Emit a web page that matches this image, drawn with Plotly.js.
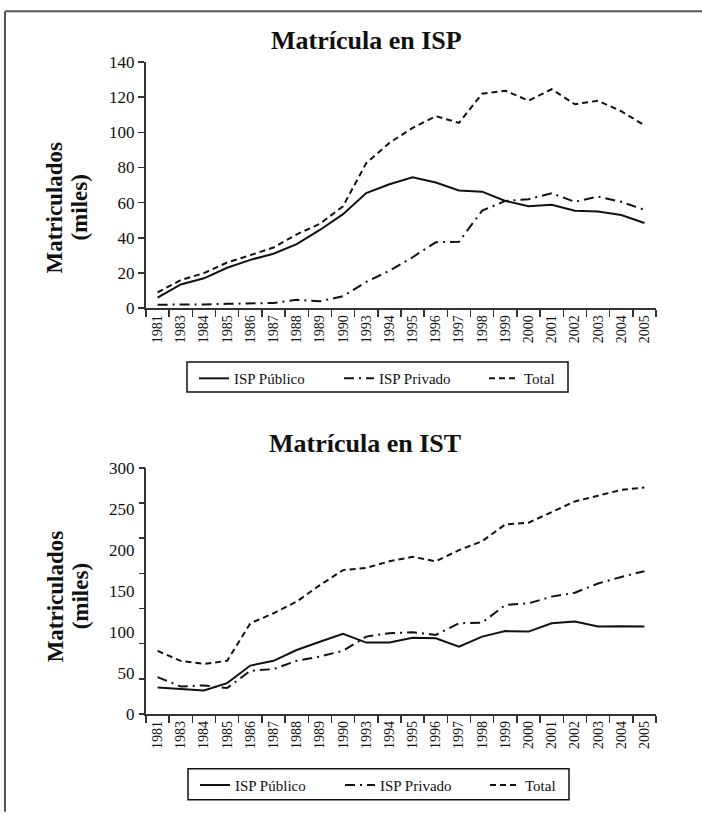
<!DOCTYPE html>
<html>
<head>
<meta charset="utf-8">
<script src="https://cdn.plot.ly/plotly-3.0.1.min.js"></script>
<style>html,body{margin:0;padding:0;background:#fff;}#chart{width:702px;height:814px;}</style>
</head>
<body>
<div id="chart"></div>
<script>
var years = ["1981","1983","1984","1985","1986","1987","1988","1989","1990","1993","1994","1995","1996","1997","1998","1999","2000","2001","2002","2003","2004","2005"];

var ispPublico = [6, 13.5, 17, 23, 27.5, 31, 36.5, 44.5, 53.5, 65.5, 70.5, 74.5, 71.5, 67, 66.3, 61, 58, 58.8, 55.5, 55, 53, 48.5];
var ispPrivado = [2, 2, 2.2, 2.5, 2.7, 3, 4.8, 4, 6.8, 15, 21.3, 29, 37.5, 37.8, 55.5, 61, 62, 65.4, 60.5, 63.5, 60.5, 56];
var ispTotal   = [9, 16, 20, 26, 30.2, 34.5, 42, 48, 58, 82.5, 94, 102.5, 109.2, 105.4, 122, 123.7, 118, 124.5, 116, 118, 112, 104];

var istPublico = [32.4, 30.4, 28.7, 37.6, 59, 64.8, 78, 88, 97.6, 87, 87, 93, 92.3, 82, 94.3, 101, 100.4, 110.5, 112.6, 106.5, 107, 106.5];
var istPrivado = [45, 33.6, 34.8, 31.6, 52.6, 54.7, 64.8, 70, 77, 94.3, 98.4, 99.6, 96.4, 110.5, 111.3, 132.8, 134.8, 143, 147.8, 159, 167, 174];
var istTotal   = [76.9, 64.7, 61, 64.8, 110.5, 122.7, 136.9, 157, 175.3, 178, 186, 191.5, 186, 199.6, 210.5, 231, 233, 246, 259, 266, 273, 276];

var ispTicks = [0, 20, 40, 60, 80, 100, 120, 140];
var istLabels = [0, 50, 100, 150, 200, 250, 300];
var istTickMarks = [0, 300/7, 600/7, 900/7, 1200/7, 1500/7, 1800/7, 300];

var seriesNames = ["ISP Público", "ISP Privado", "Total"];
var titles = ["Matrícula en ISP", "Matrícula en IST"];
var yTitleLines = ["Matriculados", "(miles)"];

var FONT = '"Liberation Serif", "Times New Roman", serif';
var styles = [
  {color: "#111", width: 2, dash: "solid"},
  {color: "#111", width: 2, dash: "10px,5px,2px,5px"},
  {color: "#111", width: 2, dash: "6px,4px"}
];

function mk(y, i, xa, ya, leg, show) {
  return {x: years, y: y, type: "scatter", mode: "lines", name: seriesNames[i],
    line: styles[i], xaxis: xa, yaxis: ya, legend: leg, showlegend: show, hoverinfo: "skip"};
}

var data = [
  mk(ispPublico, 0, "x", "y", "legend", true),
  mk(ispPrivado, 1, "x", "y", "legend", true),
  mk(ispTotal, 2, "x", "y", "legend", true),
  mk(istPublico, 0, "x2", "y2", "legend2", true),
  mk(istPrivado, 1, "x2", "y2", "legend2", true),
  mk(istTotal, 2, "x2", "y2", "legend2", true),
  // empty carrier so the overlay tick-mark axis is drawn
  {x: years, y: years.map(function(){return null;}), type: "scatter", mode: "lines",
   xaxis: "x2", yaxis: "y3", showlegend: false, hoverinfo: "skip"}
];

var xCommon = {
  type: "category", range: [-0.5, 21.5], tickson: "boundaries", ticks: "outside",
  ticklen: 7, tickwidth: 1.5, tickcolor: "#333", showline: true, linecolor: "#333", linewidth: 1.5,
  showgrid: false, zeroline: false, tickangle: -90, fixedrange: true,
  tickfont: {family: FONT, size: 14, color: "#111"}
};
var topDom = [(716-309)/654, 1];
var botDom = [0, (716-469)/654];

function px(xp) { return (xp-146)/510; }
function py(yp) { return (716-yp)/654; }

var annotations = [
  {text: titles[0], x: px(366), y: py(40)},
  {text: titles[1], x: px(365), y: py(445)}
].map(function(a){
  return Object.assign({xref: "paper", yref: "paper", xanchor: "center", yanchor: "middle", showarrow: false,
    font: {family: FONT, size: 26, color: "#111", weight: "bold"}}, a);
});
[208, 598].forEach(function(cy){
  yTitleLines.forEach(function(t, k){
    annotations.push({text: t, xref: "paper", yref: "paper", x: px(55 + 25*k), y: py(cy),
      xanchor: "center", yanchor: "middle", textangle: -90, showarrow: false,
      font: {family: FONT, size: 23, color: "#111", weight: "bold"}});
  });
});

var legendBase = {orientation: "h", xanchor: "left", yanchor: "top",
  bgcolor: "rgba(0,0,0,0)", borderwidth: 0, entrywidth: 100, entrywidthmode: "pixels",
  itemwidth: 30, font: {family: FONT, size: 15, color: "#111"}};

var layout = {
  width: 702, height: 814,
  margin: {l: 146, r: 46, t: 62, b: 98},
  paper_bgcolor: "#fff", plot_bgcolor: "#fff",
  font: {family: FONT, color: "#111"},
  xaxis: Object.assign({}, xCommon, {domain: [0,1], anchor: "y"}),
  xaxis2: Object.assign({}, xCommon, {domain: [0,1], anchor: "y2"}),
  yaxis: {domain: topDom, range: [0, 140], tickvals: ispTicks, ticktext: ispTicks.map(String),
    ticks: "outside", ticklen: 6, tickwidth: 1.5, tickcolor: "#333", showline: true, linecolor: "#333", linewidth: 2,
    showgrid: false, zeroline: false, anchor: "x", tickfont: {family: FONT, size: 17, color: "#111"}},
  yaxis2: {domain: botDom, range: [0, 300], tickvals: istLabels, ticktext: istLabels.map(String),
    ticks: "outside", ticklen: 6, tickcolor: "rgba(0,0,0,0)", showline: true, linecolor: "#333", linewidth: 2,
    showgrid: false, zeroline: false, anchor: "x2", tickfont: {family: FONT, size: 17, color: "#111"}},
  yaxis3: {domain: botDom, range: [0, 300], overlaying: "y2", anchor: "x2", side: "left",
    tickvals: istTickMarks, showticklabels: false, ticks: "outside", ticklen: 6, tickwidth: 1.5, tickcolor: "#333",
    showline: false, showgrid: false, zeroline: false},
  legend: Object.assign({}, legendBase, {x: px(194), y: py(363)}),
  legend2: Object.assign({}, legendBase, {x: px(195), y: py(771)}),
  annotations: annotations,
  shapes: [
    {type: "line", xref: "paper", yref: "paper", x0: px(5), x1: px(702), y0: py(11), y1: py(11),
      line: {color: "#555", width: 2}},
    {type: "line", xref: "paper", yref: "paper", x0: px(5), x1: px(5), y0: py(11), y1: py(814),
      line: {color: "#555", width: 2}},
    {type: "rect", xref: "paper", yref: "paper", x0: px(187), x1: px(568), y0: py(363), y1: py(393),
      line: {color: "#111", width: 1.5}},
    {type: "rect", xref: "paper", yref: "paper", x0: px(188), x1: px(569), y0: py(771), y1: py(802),
      line: {color: "#111", width: 1.5}}
  ]
};

Plotly.newPlot("chart", data, layout, {staticPlot: true, displayModeBar: false});
</script>
</body>
</html>
